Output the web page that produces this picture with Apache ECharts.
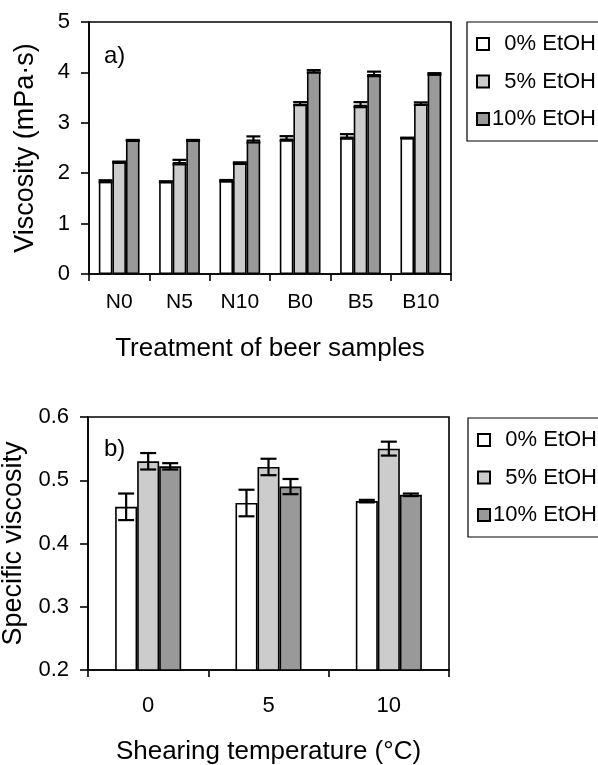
<!DOCTYPE html>
<html>
<head>
<meta charset="utf-8">
<script src="https://cdn.jsdelivr.net/npm/echarts@6/dist/echarts.min.js"></script>
<style>
  html, body { margin: 0; padding: 0; background: #fff; }
  #chart { width: 598px; height: 765px; }
</style>
</head>
<body>
<div id="chart"></div>
<script>
// Panel a) viscosity of beer samples by treatment
const beerTreatments = ['N0', 'N5', 'N10', 'B0', 'B5', 'B10'];
const viscosity0 = [1.84, 1.83, 1.85, 2.69, 2.73, 2.70];
const viscosity5 = [2.22, 2.22, 2.20, 3.38, 3.36, 3.38];
const viscosity10 = [2.65, 2.65, 2.67, 4.02, 3.97, 3.97];
const viscosityErr0 = [0.02, 0.01, 0.015, 0.045, 0.045, 0.005];
const viscosityErr5 = [0.01, 0.045, 0.015, 0.03, 0.05, 0.025];
const viscosityErr10 = [0.01, 0.01, 0.06, 0.025, 0.045, 0.015];

// Panel b) specific viscosity by shearing temperature
const shearTemps = ['0', '5', '10'];
const specVisc0 = [0.458, 0.464, 0.467];
const specVisc5 = [0.530, 0.521, 0.550];
const specVisc10 = [0.522, 0.490, 0.477];
const specErr0 = [0.021, 0.021, 0.002];
const specErr5 = [0.013, 0.013, 0.011];
const specErr10 = [0.005, 0.012, 0.002];

const seriesNames = ['0% EtOH', '5% EtOH', '10% EtOH'];
const fills = ['#ffffff', '#cccccc', '#999999'];

const FONT = 'Liberation Sans, Arial, sans-serif';
const BAR_FRAC_A = 0.225;
const BAR_FRAC_B = 0.183;

function barSeries(name, idx, data, axisIndex, frac) {
  return {
    type: 'bar', name: name, data: data,
    xAxisIndex: axisIndex, yAxisIndex: axisIndex,
    barWidth: (frac * 100) + '%', barGap: '0%',
    itemStyle: { color: fills[idx], borderColor: '#000', borderWidth: 1.6 },
    animation: false
  };
}

function errorSeries(values, errs, offsetIdx, axisIndex, frac, capHalf) {
  return {
    type: 'custom', xAxisIndex: axisIndex, yAxisIndex: axisIndex,
    z: 5, silent: true, animation: false,
    data: values.map((v, i) => [i, v, errs[i]]),
    encode: { x: 0, y: 1 },
    renderItem: function (params, api) {
      const cat = api.value(0), v = api.value(1), e = api.value(2);
      const band = api.size([1, 0])[0];
      const base = api.coord([cat, v]);
      const x = base[0] + offsetIdx * band * frac;
      const hi = api.coord([cat, v + e])[1];
      const lo = api.coord([cat, v - e])[1];
      const st = { stroke: '#000', lineWidth: 2.2 };
      return {
        type: 'group',
        children: [
          { type: 'line', shape: { x1: x, y1: hi, x2: x, y2: lo }, style: st },
          { type: 'line', shape: { x1: x - capHalf, y1: hi, x2: x + capHalf, y2: hi }, style: st },
          { type: 'line', shape: { x1: x - capHalf, y1: lo, x2: x + capHalf, y2: lo }, style: st }
        ]
      };
    }
  };
}

function legendAt(left, top) {
  return {
    left: left, top: top, orient: 'vertical',
    data: seriesNames,
    icon: 'rect', itemWidth: 12, itemHeight: 12, itemGap: 15.5,
    borderColor: '#000', borderWidth: 1.2,
    padding: [11, 40, 11, 9],
    selectedMode: false,
    formatter: function (n) { return '{t|' + n + '}'; },
    textStyle: {
      color: '#000', fontFamily: FONT, fontSize: 22,
      rich: { t: { width: 102, align: 'right', fontFamily: FONT, fontSize: 22, lineHeight: 22, color: '#000' } }
    }
  };
}

const axisLine = { show: true, lineStyle: { color: '#000', width: 1.6 } };
const axisTick = { show: true, inside: false, lineStyle: { color: '#000', width: 1.6 } };

const option = {
  backgroundColor: '#fff',
  animation: false,
  textStyle: { fontFamily: FONT, color: '#000' },
  grid: [
    { left: 89, top: 22, width: 362, height: 252, outerBoundsMode: 'none', containLabel: false,
      show: true, borderColor: '#000', borderWidth: 1.6, backgroundColor: 'transparent' },
    { left: 88, top: 417, width: 361, height: 253, outerBoundsMode: 'none', containLabel: false,
      show: true, borderColor: '#000', borderWidth: 1.6, backgroundColor: 'transparent' }
  ],
  legend: [legendAt(467, 22), legendAt(468, 418)],
  xAxis: [
    {
      type: 'category', gridIndex: 0, data: beerTreatments,
      axisLine: axisLine, axisTick: Object.assign({ length: 7 }, axisTick),
      axisLabel: { color: '#000', fontSize: 21, fontFamily: FONT, margin: 18 },
      name: 'Treatment of beer samples', nameLocation: 'middle', nameGap: 62,
      nameTextStyle: { color: '#000', fontSize: 26, fontFamily: FONT }
    },
    {
      type: 'category', gridIndex: 1, data: shearTemps,
      axisLine: axisLine, axisTick: Object.assign({ length: 7 }, axisTick),
      axisLabel: { color: '#000', fontSize: 22, fontFamily: FONT, margin: 25 },
      name: 'Shearing temperature (°C)', nameLocation: 'middle', nameGap: 69,
      nameTextStyle: { color: '#000', fontSize: 26, fontFamily: FONT }
    }
  ],
  yAxis: [
    {
      type: 'value', gridIndex: 0, min: 0, max: 5, interval: 1,
      axisLine: axisLine, axisTick: Object.assign({ length: 8 }, axisTick),
      splitLine: { show: false },
      axisLabel: { color: '#000', fontSize: 22, fontFamily: FONT, margin: 19 },
      name: 'Viscosity (mPa·s)', nameLocation: 'middle', nameGap: 50,
      nameTextStyle: { color: '#000', fontSize: 27, fontFamily: FONT }
    },
    {
      type: 'value', gridIndex: 1, min: 0.2, max: 0.6, interval: 0.1,
      axisLine: axisLine, axisTick: Object.assign({ length: 8 }, axisTick),
      splitLine: { show: false },
      axisLabel: { color: '#000', fontSize: 22, fontFamily: FONT, margin: 19,
        formatter: function (v) { return v.toFixed(1); } },
      name: 'Specific viscosity', nameLocation: 'middle', nameGap: 58,
      nameTextStyle: { color: '#000', fontSize: 27, fontFamily: FONT }
    }
  ],
  graphic: [
    { type: 'text', left: 104, top: 44, style: { text: 'a)', font: '24px ' + FONT, fill: '#000' } },
    { type: 'text', left: 104, top: 437, style: { text: 'b)', font: '24px ' + FONT, fill: '#000' } }
  ],
  series: [
    barSeries(seriesNames[0], 0, viscosity0, 0, BAR_FRAC_A),
    barSeries(seriesNames[1], 1, viscosity5, 0, BAR_FRAC_A),
    barSeries(seriesNames[2], 2, viscosity10, 0, BAR_FRAC_A),
    errorSeries(viscosity0, viscosityErr0, -1, 0, BAR_FRAC_A, 7),
    errorSeries(viscosity5, viscosityErr5, 0, 0, BAR_FRAC_A, 7),
    errorSeries(viscosity10, viscosityErr10, 1, 0, BAR_FRAC_A, 7),
    barSeries(seriesNames[0], 0, specVisc0, 1, BAR_FRAC_B),
    barSeries(seriesNames[1], 1, specVisc5, 1, BAR_FRAC_B),
    barSeries(seriesNames[2], 2, specVisc10, 1, BAR_FRAC_B),
    errorSeries(specVisc0, specErr0, -1, 1, BAR_FRAC_B, 8),
    errorSeries(specVisc5, specErr5, 0, 1, BAR_FRAC_B, 8),
    errorSeries(specVisc10, specErr10, 1, 1, BAR_FRAC_B, 8)
  ]
};

const chart = echarts.init(document.getElementById('chart'), null, { renderer: 'canvas' });
chart.setOption(option);
</script>
</body>
</html>
